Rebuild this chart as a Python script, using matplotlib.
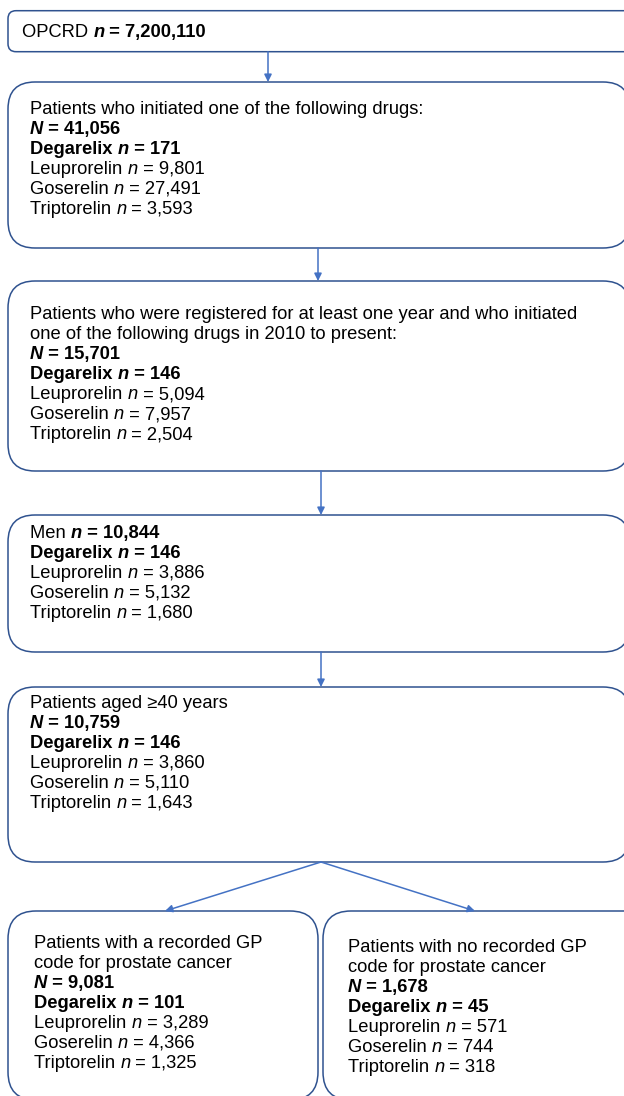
import matplotlib
matplotlib.use("Agg")
import matplotlib.pyplot as plt
from matplotlib.patches import FancyBboxPatch

# ==========================================
# DATA
# ==========================================

drugs = ["Degarelix", "Leuprorelin", "Goserelin", "Triptorelin"]

opcrd_n = 7200110

stage_titles = [
    ["Patients who initiated one of the following drugs:"],
    ["Patients who were registered for at least one year and who initiated",
     "one of the following drugs in 2010 to present:"],
    ["Men"],
    ["Patients aged \u226540 years"],
    ["Patients with a recorded GP", "code for prostate cancer"],
    ["Patients with no recorded GP", "code for prostate cancer"],
]

stage_totals = [41056, 15701, 10844, 10759, 9081, 1678]

# "N" on its own line, or "n" after the title (Men box)
stage_total_inline = [False, False, True, False, False, False]

drug_counts = [
    [171, 9801, 27491, 3593],
    [146, 5094, 7957, 2504],
    [146, 3886, 5132, 1680],
    [146, 3860, 5110, 1643],
    [101, 3289, 4366, 1325],
    [45, 571, 744, 318],
]

# ==========================================
# STYLE
# ==========================================

W, H = 624, 1096
FS = 13.2
LINE = 20
FONT = "Liberation Sans"
EDGE = "#2F528F"
ARROW = "#4472C4"

fig = plt.figure(figsize=(W / 100, H / 100), dpi=100)
ax = fig.add_axes([0, 0, 1, 1])
ax.set_xlim(0, W)
ax.set_ylim(H, 0)
ax.axis("off")

renderer = fig.canvas.get_renderer()


def rich_line(x, y, segments):
    for txt, style in segments:
        t = ax.text(
            x, y, txt,
            fontsize=FS,
            family=FONT,
            fontweight="bold" if "b" in style else "normal",
            fontstyle="italic" if "i" in style else "normal",
            ha="left",
            va="baseline",
            color="black"
        )
        bb = t.get_window_extent(renderer)
        x0 = ax.transData.inverted().transform((bb.x0, bb.y0))[0]
        x1 = ax.transData.inverted().transform((bb.x1, bb.y0))[0]
        x += x1 - x0


def box(x0, y0, x1, y1, r):
    p = FancyBboxPatch(
        (x0, y0), x1 - x0, y1 - y0,
        boxstyle=f"round,pad=0,rounding_size={r}",
        facecolor="white",
        edgecolor=EDGE,
        linewidth=1.1
    )
    ax.add_patch(p)


def arrow(x0, y0, x1, y1):
    ax.annotate(
        "",
        xy=(x1, y1),
        xytext=(x0, y0),
        arrowprops=dict(
            arrowstyle="-|>",
            color=ARROW,
            lw=1.1,
            mutation_scale=11,
            shrinkA=0,
            shrinkB=0
        )
    )


def stage_lines(i):
    lines = []
    total = f"{stage_totals[i]:,}"
    if stage_total_inline[i]:
        lines.append([(stage_titles[i][0] + " ", "n"), ("n", "bi"), (" = " + total, "b")])
    else:
        for t in stage_titles[i]:
            lines.append([(t, "n")])
        lines.append([("N", "bi"), (" = " + total, "b")])
    for name, c in zip(drugs, drug_counts[i]):
        if name == "Degarelix":
            lines.append([(name + " ", "b"), ("n", "bi"), (f" = {c:,}", "b")])
        else:
            lines.append([(name + " ", "n"), ("n", "i"), (f" = {c:,}", "n")])
    return lines


# ==========================================
# BOXES
# ==========================================

# (x0, y0, x1, y1, radius, text x, first baseline)
layout = [
    (8, 82, 630, 248, 27, 30, 114),
    (8, 281, 630, 471, 27, 30, 319),
    (8, 515, 630, 652, 27, 30, 538),
    (8, 687, 630, 862, 27, 30, 708),
    (8, 911, 318, 1100, 28, 34, 948),
    (323, 911, 660, 1100, 28, 348, 952),
]

# top box
box(8, 10.7, 660, 51.7, 8)
rich_line(22, 37, [("OPCRD ", "n"), ("n", "bi"), (f" = {opcrd_n:,}", "b")])

for i, (x0, y0, x1, y1, r, tx, ty) in enumerate(layout):
    box(x0, y0, x1, y1, r)
    for k, segs in enumerate(stage_lines(i)):
        rich_line(tx, ty + k * LINE, segs)

# ==========================================
# ARROWS
# ==========================================

arrow(268, 51.7, 268, 82)
arrow(318, 248, 318, 281)
arrow(321, 471, 321, 515)
arrow(321, 652, 321, 687)
arrow(321, 862, 165, 911)
arrow(321, 862, 475, 911)

fig.savefig("out.png", dpi=100)
